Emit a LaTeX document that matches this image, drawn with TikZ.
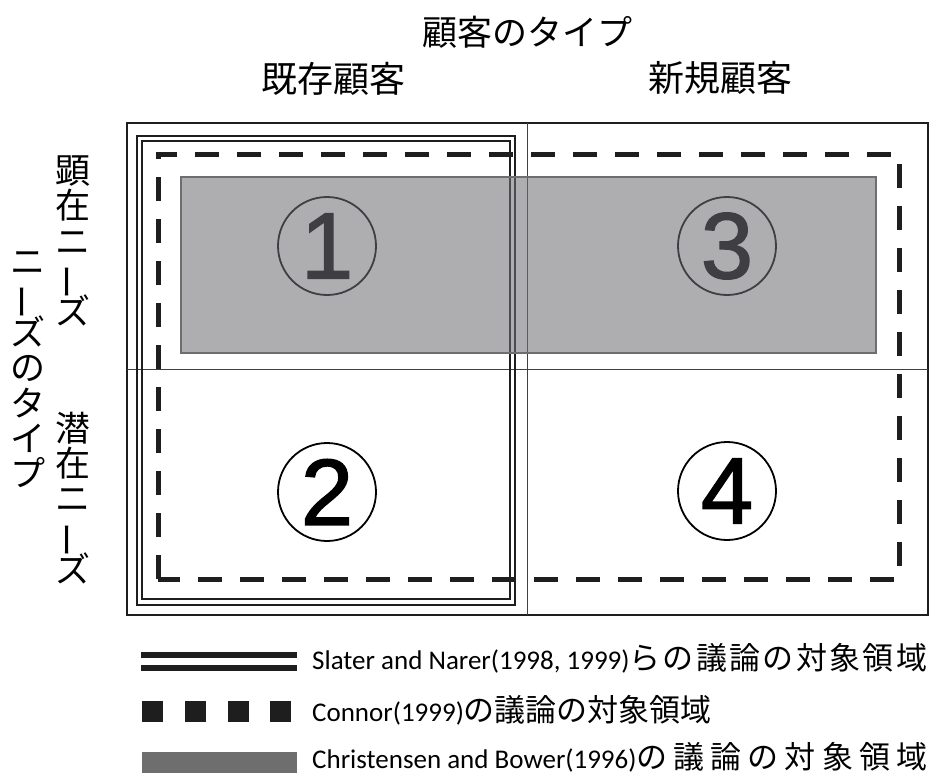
\documentclass[tikz,border=0pt]{standalone}
\usepackage{fontspec}
\usepackage{graphicx}
\setmainfont{Carlito}
\newfontfamily\jp{Noto Sans CJK JP}
\newfontfamily\dig[FakeBold=1.5]{Liberation Sans}
\definecolor{shade}{RGB}{112,112,118}
\definecolor{legendgray}{RGB}{110,110,110}
\definecolor{ink}{RGB}{30,30,30}
\newcommand\vbar{\smash{\rotatebox[origin=c]{90}{ー}}}
\newcommand\jpleg[1]{{\jp\fontsize{31}{31}\selectfont #1}}
\makeatletter
\newif\iffirstc
\newcommand\distjp[1]{{\jp\fontsize{31}{31}\selectfont\firstctrue\@tfor\cc:=#1\do{\iffirstc\global\firstcfalse\else\hfill\fi\cc}}}
\makeatother
\begin{document}
\begin{tikzpicture}[x=1pt,y=-1pt,
 frame/.style={draw=ink,line width=1.4pt},
 divider/.style={draw=black!75,line width=0.9pt},
 dblout/.style={draw=ink,line width=2pt},
 dblin/.style={draw=ink,line width=1.2pt},
 dashbox/.style={draw=ink,line width=5pt,dash pattern=on 24pt off 18pt},
 shadebox/.style={fill=shade,fill opacity=0.57,draw=legendgray,line width=1.5pt},
 numcircle/.style={circle,draw=black,line width=1.8pt,minimum size=98pt,inner sep=0pt,font=\dig\fontsize{94}{94}\selectfont},
 head/.style={inner sep=0pt,font=\jp\fontsize{35}{35}\selectfont},
 vlabel/.style={inner sep=0pt,align=center,font=\jp\fontsize{35}{35.4}\selectfont},
 legtext/.style={anchor=base west,inner sep=0pt,font=\fontsize{27}{30}\selectfont},
]
\useasboundingbox (0,0) rectangle (929,774);
% headers
\node[head] (type) at (527,32) {顧客のタイプ};
\node[head,font=\jp\fontsize{36}{36}\selectfont] (exist) at (333,79) {既存顧客};
\node[head,font=\jp\fontsize{36}{36}\selectfont] (new) at (720,78) {新規顧客};
% vertical labels
\node[vlabel] (overt) at (73,241) {顕\\在\\ニ\\\vbar\\ズ};
\node[vlabel] (latent) at (73,498) {潜\\在\\ニ\\\vbar\\ズ};
\node[vlabel] (needs) at (28,370) {ニ\\\vbar\\ズ\\の\\タ\\イ\\プ};
% frame and dividers
\draw[frame] (127,123) rectangle (928,615);
\draw[divider] (527,123) -- (527,615);
\draw[divider] (127,369) -- (928,369);
% double-line box
\draw[dblout] (137,136) rectangle (515,605);
\draw[dblin] (142,141) rectangle (510,599);
% dashed box
\draw[dashbox] (158,579) -- (158,154) -- (899,154) -- (899,579) -- cycle;
% circled numbers
\node[numcircle] (q1) at (327,246) {1};
\node[numcircle] (q2) at (327,492) {2};
\node[numcircle] (q3) at (727,246) {3};
\node[numcircle] (q4) at (727,491) {4};
% translucent shaded region
\draw[shadebox] (181,177) rectangle (876,353);
% legend
\draw[ink,line width=6pt] (141,654.5) -- (297,654.5);
\draw[ink,line width=6pt] (141,667.5) -- (297,667.5);
\fill[ink] (142,701) rectangle ++(21,21);
\fill[ink] (185,701) rectangle ++(21,21);
\fill[ink] (228,701) rectangle ++(21,21);
\fill[ink] (270,701) rectangle ++(21,21);
\fill[legendgray] (142,752) rectangle (297,773);
\node[legtext] (leg1) at (312,669) {\makebox[615pt][l]{Slater and Narer(1998, 1999)\distjp{らの議論の対象領域}}};
\node[legtext] (leg2) at (312,721) {Connor(1999)\jpleg{の議論の対象領域}};
\node[legtext] (leg3) at (312,768) {\makebox[615pt][l]{Christensen and Bower(1996)\distjp{の議論の対象領域}}};
\end{tikzpicture}
\end{document}
